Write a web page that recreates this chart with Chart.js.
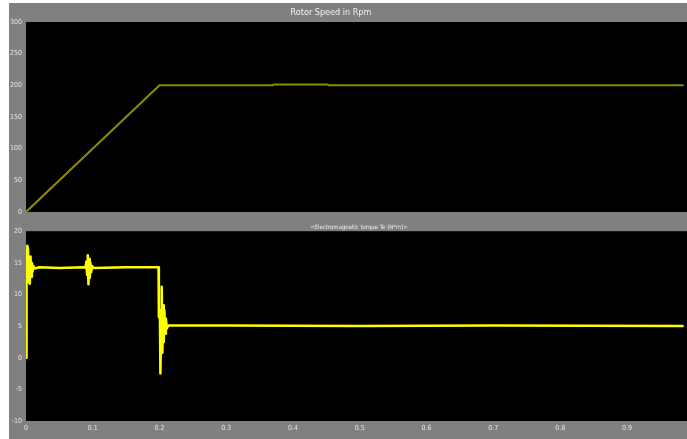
<!DOCTYPE html>
<html>
<head>
<meta charset="utf-8">
<script src="https://cdn.jsdelivr.net/npm/chart.js@4"></script>
<style>
  body { margin: 0; background: #fff; width: 687px; height: 439px; overflow: hidden; }
  #panel { position: absolute; left: 9px; top: 3px; width: 678px; height: 436px; background: #808080; }
  #speedBox { position: absolute; left: 0; top: 0; width: 678px; height: 220px; }
  #torqueBox { position: absolute; left: 0; top: 220px; width: 678px; height: 216px; }
</style>
</head>
<body>
<div id="panel">
  <div id="speedBox"><canvas id="speedChart"></canvas></div>
  <div id="torqueBox"><canvas id="torqueChart"></canvas></div>
</div>
<script>
const speedTitle = 'Rotor Speed in Rpm';
const torqueTitle = '<Electromagnetic torque Te (N*m)>';

const speedTime  = [0, 0.2, 0.369, 0.372, 0.451, 0.454, 0.985];
const speedValue = [0, 200, 200, 201.5, 201.5, 200, 200];

const torqueTime = [0, 0.0008, 0.002, 0.003, 0.0045, 0.0057, 0.0068, 0.0078, 0.0088, 0.0098, 0.011, 0.013,
  0.02, 0.05, 0.087, 0.089, 0.0905, 0.0915, 0.0925, 0.0935, 0.0945, 0.0955, 0.0965, 0.0975, 0.099, 0.101,
  0.15, 0.1985, 0.199, 0.2005, 0.2013, 0.2023, 0.2033, 0.2043, 0.2053, 0.2063, 0.2073, 0.2083, 0.2095,
  0.211, 0.213, 0.3, 0.5, 0.7, 0.985];
const torqueValue = [0, 11, 17.7, 17.2, 12, 11.7, 16, 12.8, 15, 13.6, 14.5, 14.1,
  14.3, 14.2, 14.3, 14.2, 15.2, 13.1, 16.2, 11.6, 15.6, 12.6, 15, 13.5, 14.5, 14.2,
  14.3, 14.3, 6.4, 7.5, -2.5, 4, 11.2, 0.8, 8.3, 2.5, 7.5, 3.8, 6.2,
  4.6, 5.1, 5.1, 5.0, 5.1, 5.0];

const speedTicks = [0, 50, 100, 150, 200, 250, 300];
const torqueTicks = [-10, -5, 0, 5, 10, 15, 20];
const timeTicks = [0, 0.1, 0.2, 0.3, 0.4, 0.5, 0.6, 0.7, 0.8, 0.9];

const fontFamily = "'Liberation Sans Narrow', 'DejaVu Sans Condensed', 'Liberation Sans', sans-serif";
const tickColor = '#e4e4e4';

// black plot area plus panel title drawn at a fixed place
const scopePlugin = {
  id: 'scope',
  beforeDraw(chart, args, opts) {
    const a = chart.chartArea;
    const ctx = chart.ctx;
    ctx.save();
    ctx.fillStyle = '#000';
    ctx.fillRect(a.left, a.top, a.right - a.left, a.bottom - a.top);
    ctx.restore();
  },
  afterDraw(chart, args, opts) {
    const ctx = chart.ctx;
    ctx.save();
    ctx.fillStyle = opts.color;
    ctx.font = opts.size + 'px ' + fontFamily;
    ctx.textAlign = 'center';
    ctx.textBaseline = 'middle';
    ctx.fillText(opts.text, opts.x, opts.y);
    ctx.restore();
  }
};

function points(xs, ys) {
  return xs.map((x, i) => ({ x: x, y: ys[i] }));
}

function yAxis(ticks) {
  return {
    type: 'linear',
    min: ticks[0],
    max: ticks[ticks.length - 1],
    afterFit: s => { s.width = 17; },
    afterBuildTicks: s => { s.ticks = ticks.map(v => ({ value: v })); },
    grid: { display: false, drawTicks: false },
    border: { display: false },
    ticks: { color: tickColor, padding: 4, font: { family: fontFamily, size: 7 }, autoSkip: false }
  };
}

function xAxis(show) {
  const axis = {
    type: 'linear',
    min: 0,
    max: 0.99,
    display: show,
    afterBuildTicks: s => { s.ticks = timeTicks.map(v => ({ value: v })); },
    grid: { display: false, drawTicks: false },
    border: { display: false },
    ticks: { color: tickColor, padding: 3, font: { family: fontFamily, size: 7 }, autoSkip: false, maxRotation: 0,
      callback: v => String(v) }
  };
  if (show) axis.afterFit = s => { s.height = 12; };
  return axis;
}

new Chart(document.getElementById('speedChart').getContext('2d'), {
  type: 'line',
  data: {
    datasets: [{
      data: points(speedTime, speedValue),
      borderColor: '#8c8c06',
      borderWidth: 2,
      borderJoinStyle: 'round',
      pointRadius: 0,
      tension: 0
    }]
  },
  options: {
    responsive: true,
    maintainAspectRatio: false,
    animation: false,
    layout: { padding: { top: 19, bottom: 11, left: 0, right: 0 } },
    plugins: {
      legend: { display: false },
      tooltip: { enabled: false },
      scope: { text: speedTitle, x: 322, y: 10, size: 9, color: '#f0f0f0' }
    },
    scales: { x: xAxis(false), y: yAxis(speedTicks) }
  },
  plugins: [scopePlugin]
});

new Chart(document.getElementById('torqueChart').getContext('2d'), {
  type: 'line',
  data: {
    datasets: [{
      data: points(torqueTime, torqueValue),
      borderColor: '#ffff00',
      borderWidth: 2.5,
      borderJoinStyle: 'round',
      pointRadius: 0,
      tension: 0
    }]
  },
  options: {
    responsive: true,
    maintainAspectRatio: false,
    animation: false,
    layout: { padding: { top: 8, bottom: 6, left: 0, right: 0 } },
    plugins: {
      legend: { display: false },
      tooltip: { enabled: false },
      scope: { text: torqueTitle, x: 350, y: 4, size: 6, color: '#f0f0f0' }
    },
    scales: { x: xAxis(true), y: yAxis(torqueTicks) }
  },
  plugins: [scopePlugin]
});
</script>
</body>
</html>
